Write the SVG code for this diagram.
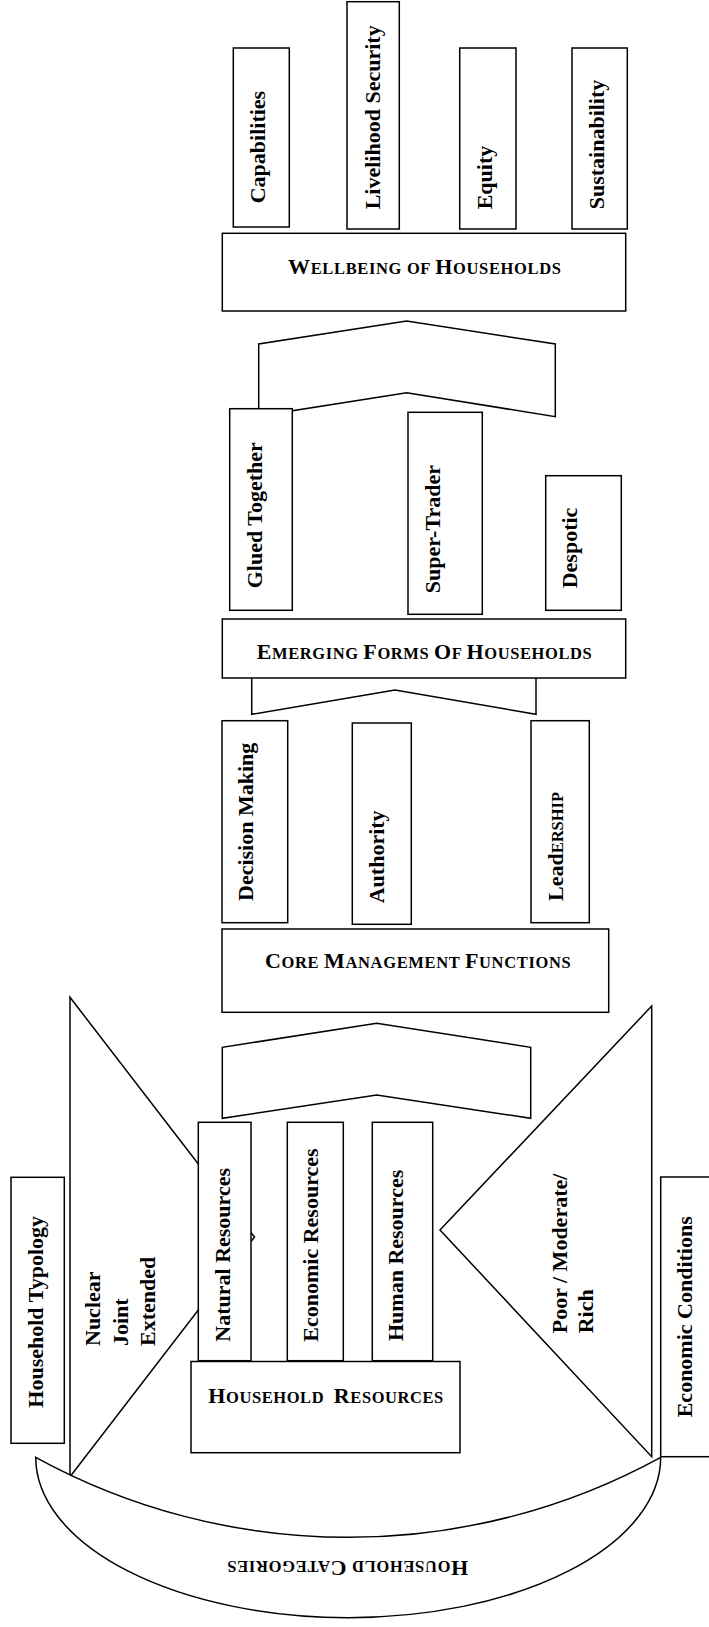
<svg xmlns="http://www.w3.org/2000/svg" width="709" height="1627" viewBox="0 0 709 1627">
<style>
.b{fill:#fff;stroke:#000;stroke-width:1.5}
.c{fill:#fff;stroke:#000;stroke-width:1.5;stroke-linejoin:miter}
.t{font-family:"Liberation Serif","Times New Roman",serif;font-weight:bold;font-size:22px;fill:#000}
.sc{font-size:16.5px}
</style>
<rect width="709" height="1627" fill="#fff"/>
<g id="connectors">
<polygon class="c" points="258.7,416 258.7,344 406.7,321 555.3,344 555.3,416.7 406.7,392.7"/>
<polygon class="c" points="251.7,714.3 251.7,660 395,636 536,660 536,714.3 395,690"/>
<polygon class="c" points="222.3,1118.3 222.3,1047.3 376.7,1023.3 530.7,1047.3 530.7,1118.3 376.7,1095"/>
<polygon class="c" points="70,997.3 254.5,1237 70,1476.7"/>
<polygon class="c" points="651.7,1006 440,1230 651.7,1456.7"/>
</g>
<g id="capabilities"><rect class="b" x="233.3" y="48" width="56" height="179"/><text class="t" transform="translate(265,203.3) rotate(-90)">Capabilities</text></g>
<g id="livelihood"><rect class="b" x="347" y="1.7" width="52.3" height="227.3"/><text class="t" transform="translate(380,209.3) rotate(-90)">Livelihood Security</text></g>
<g id="equity"><rect class="b" x="459.7" y="48" width="56.3" height="181"/><text class="t" transform="translate(491.7,209.3) rotate(-90)">Equity</text></g>
<g id="sustainability"><rect class="b" x="572" y="48" width="55.3" height="181"/><text class="t" transform="translate(604,209.3) rotate(-90)">Sustainability</text></g>
<g id="wellbeing"><rect class="b" x="222.3" y="233.3" width="403.4" height="77.7"/><text class="t" x="288" y="274" textLength="273" lengthAdjust="spacing">W<tspan class="sc">ELLBEING OF </tspan>H<tspan class="sc">OUSEHOLDS</tspan></text></g>
<g id="glued"><rect class="b" x="229.7" y="408.7" width="62.6" height="201.6"/><text class="t" transform="translate(261.7,588.3) rotate(-90)">Glued Together</text></g>
<g id="supertrader"><rect class="b" x="408" y="412.3" width="74.3" height="202"/><text class="t" transform="translate(440,593.3) rotate(-90)">Super-Trader</text></g>
<g id="despotic"><rect class="b" x="545.7" y="475.7" width="75.6" height="134.6"/><text class="t" transform="translate(576.7,588.3) rotate(-90)">Despotic</text></g>
<g id="emerging"><rect class="b" x="222.3" y="619" width="403.4" height="59"/><text class="t" x="256.7" y="658.7" textLength="335" lengthAdjust="spacing">E<tspan class="sc">MERGING </tspan>F<tspan class="sc">ORMS </tspan>O<tspan class="sc">F </tspan>H<tspan class="sc">OUSEHOLDS</tspan></text></g>
<g id="decision"><rect class="b" x="222" y="720.7" width="65.7" height="202"/><text class="t" transform="translate(253.3,901) rotate(-90)">Decision Making</text></g>
<g id="authority"><rect class="b" x="352.3" y="723" width="59" height="201.3"/><text class="t" transform="translate(384,903.3) rotate(-90)">Authority</text></g>
<g id="leadership"><rect class="b" x="531" y="720.7" width="58.3" height="202"/><text class="t" transform="translate(563.3,901) rotate(-90)">Lead<tspan class="sc">ERSHIP</tspan></text></g>
<g id="core"><rect class="b" x="222" y="929" width="386.7" height="83.3"/><text class="t" x="265" y="968.3" textLength="305.7" lengthAdjust="spacing">C<tspan class="sc">ORE </tspan>M<tspan class="sc">ANAGEMENT </tspan>F<tspan class="sc">UNCTIONS</tspan></text></g>
<g id="typology"><rect class="b" x="11" y="1177.3" width="53.3" height="266"/><text class="t" transform="translate(43.3,1407.7) rotate(-90)">Household Typology</text></g>
<g id="typology-values"><text class="t" transform="translate(100,1346) rotate(-90)">Nuclear</text><text class="t" transform="translate(128.3,1346) rotate(-90)">Joint</text><text class="t" transform="translate(155,1346) rotate(-90)">Extended</text></g>
<g id="natural"><rect class="b" x="198.3" y="1122.3" width="52.7" height="238.4"/><text class="t" transform="translate(230,1341.7) rotate(-90)">Natural Resources</text></g>
<g id="economicres"><rect class="b" x="287.3" y="1122.3" width="56" height="238.4"/><text class="t" transform="translate(318.3,1341.7) rotate(-90)">Economic Resources</text></g>
<g id="human"><rect class="b" x="372.3" y="1122.3" width="60.4" height="238.4"/><text class="t" transform="translate(403.3,1341) rotate(-90)">Human Resources</text></g>
<g id="resources"><rect class="b" x="191" y="1361.5" width="269" height="91.2"/><text class="t" x="208.3" y="1402.7" textLength="235" lengthAdjust="spacing">H<tspan class="sc">OUSEHOLD </tspan><tspan dx="5">R</tspan><tspan class="sc">ESOURCES</tspan></text></g>
<g id="economic-values"><text class="t" transform="translate(566.7,1333.3) rotate(-90)">Poor / Moderate/</text><text class="t" transform="translate(593.3,1333.3) rotate(-90)">Rich</text></g>
<g id="conditions"><rect class="b" x="660.7" y="1177" width="60" height="279.7"/><text class="t" transform="translate(691.7,1417.3) rotate(-90)">Economic Conditions</text></g>
<g id="categories"><path class="b" d="M35.7,1457.3 A312.5,160.4 0 0 0 660.7,1457.3 A650,650 0 0 1 35.7,1457.3 Z"/><text class="t" transform="translate(468.3,1560.7) rotate(180)" textLength="241" lengthAdjust="spacing">H<tspan class="sc">OUSEHOLD </tspan>C<tspan class="sc">ATEGORIES</tspan></text></g>
</svg>
